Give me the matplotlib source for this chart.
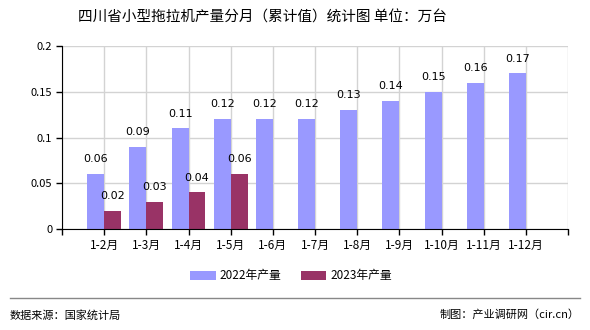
import matplotlib
matplotlib.use("Agg")
import matplotlib.pyplot as plt
import numpy as np

plt.rcParams['font.family'] = ['Noto Sans CJK SC', 'DejaVu Sans']

categories = ["1-2月", "1-3月", "1-4月", "1-5月", "1-6月", "1-7月", "1-8月",
              "1-9月", "1-10月", "1-11月", "1-12月"]
vals_2022 = [0.06, 0.09, 0.11, 0.12, 0.12, 0.12, 0.13, 0.14, 0.15, 0.16, 0.17]
vals_2023 = [0.02, 0.03, 0.04, 0.06]
series_names = ["2022年产量", "2023年产量"]
yticks = [0, 0.05, 0.1, 0.15, 0.2]
ytick_labels = ["0", "0.05", "0.1", "0.15", "0.2"]
title = "四川省小型拖拉机产量分月（累计值）统计图 单位：万台"
source = "数据来源：国家统计局"
credit = "制图：产业调研网（cir.cn）"

c1 = "#9999ff"
c2 = "#993366"

fig = plt.figure(figsize=(5.9, 3.3), dpi=100)
ax = fig.add_axes([62/590, 1-229/330, (568-62)/590, (229-46)/330])

x = np.arange(len(categories))
w = 0.4
b1 = ax.bar(x[:len(vals_2022)] - w/2, vals_2022, width=w, color=c1, label=series_names[0], zorder=3)
b2 = ax.bar(x[:len(vals_2023)] + w/2, vals_2023, width=w, color=c2, label=series_names[1], zorder=3)

for rect, v in zip(b1, vals_2022):
    ax.annotate(f"{v:.2f}", (rect.get_x() + rect.get_width()/2, v), xytext=(0, 7),
                textcoords="offset points", ha="center", va="bottom", fontsize=8,
                family="DejaVu Sans")
for rect, v in zip(b2, vals_2023):
    ax.annotate(f"{v:.2f}", (rect.get_x() + rect.get_width()/2, v), xytext=(0, 7),
                textcoords="offset points", ha="center", va="bottom", fontsize=8,
                family="DejaVu Sans")

ax.set_xlim(-1, len(categories))
ax.set_ylim(0, 0.2)
ax.set_yticks(yticks)
ax.set_yticklabels(ytick_labels, fontsize=8)
ticks = np.arange(-1, len(categories) + 1)
ax.set_xticks(ticks)
ax.set_xticklabels([""] + categories + [""], fontsize=8.5)
ax.tick_params(axis="both", direction="out", length=4, width=1, color="black", pad=3)
ax.grid(True, color="#d3d3d3", linewidth=1, zorder=0)
for s in ["top", "right"]:
    ax.spines[s].set_visible(False)
ax.spines["left"].set_color("black")
ax.spines["bottom"].set_color("black")
ax.spines["left"].set_zorder(4)
ax.spines["bottom"].set_zorder(4)

fig.text(262/590, 1-18/330, title, ha="center", va="center", fontsize=10.5)

fig.legend(handles=[b1, b2], labels=series_names, loc="center", bbox_to_anchor=(291/590, 1-276/330),
           ncol=2, frameon=False, fontsize=8.5, handlelength=2.2, handleheight=0.8,
           columnspacing=1.6, handletextpad=0.3)

fig.add_artist(plt.Line2D([10/590, 580/590], [1-298/330, 1-298/330], color="#888888", linewidth=1))
fig.text(10/590, 1-315/330, source, ha="left", va="center", fontsize=8)
fig.text(580/590, 1-315/330, credit, ha="right", va="center", fontsize=8)

fig.savefig("out.png", dpi=100)
